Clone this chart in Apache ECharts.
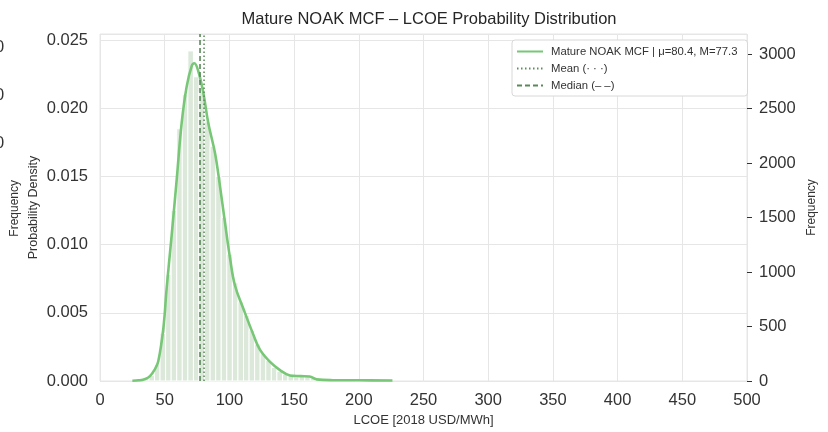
<!DOCTYPE html>
<html>
<head>
<meta charset="utf-8">
<script src="https://cdn.jsdelivr.net/npm/echarts@6/dist/echarts.min.js"></script>
<style>html,body{margin:0;padding:0;background:#fff}#c{width:828px;height:432px}</style>
</head>
<body>
<div id="c"></div>
<script>
// ---- data ----
var titleText = 'Mature NOAK MCF \u2013 LCOE Probability Distribution';
var xTicks = [0, 50, 100, 150, 200, 250, 300, 350, 400, 450, 500];
var densityTicks = [0, 0.005, 0.010, 0.015, 0.020, 0.025];
var freqTicks = [0, 500, 1000, 1500, 2000, 2500, 3000];
var meanVal = 80.4;
var medianVal = 77.3;
var seriesName = 'Mature NOAK MCF | \u03bc=80.4, M=77.3';

// histogram (frequency counts)
var histBinStart = 33.5;
var histBinWidth = 4.3;
var histFreq = [25, 50, 150, 438, 976, 1564, 2315, 2628, 3029, 2791, 2653, 2378, 2153, 1877, 1502,
  1164, 901, 726, 601, 463, 338, 250, 188, 125, 88, 63, 50, 38, 38, 38, 25, 12, 12, 12, 8, 6, 4, 3, 2, 1, 1];

// KDE curve
var kdeX = [25, 30, 35, 38.6, 42, 45, 49, 51.5, 55.4, 59.3, 63.1, 67, 70.9, 72.9, 76, 79.9, 83.7, 88.9,
  92.7, 96.6, 100.5, 104.3, 110.8, 118.5, 123.6, 131.4, 139.1, 146.8, 155, 162, 167.4, 180, 200, 226];
var kdeY = [0.00002, 0.00005, 0.00015, 0.00036, 0.0008, 0.00143, 0.0039, 0.0068, 0.0107, 0.0148, 0.0189,
  0.0216, 0.0231, 0.0233, 0.0227, 0.0211, 0.0189, 0.0167, 0.0143, 0.0116, 0.0090, 0.0070, 0.0053, 0.0034,
  0.0023, 0.0014, 0.0008, 0.00041, 0.00036, 0.00033, 0.00012, 0.00006, 0.00005, 0.00004];

// ---- build ----
var densMax = 0.02544;
var freqMax = 3184;
var histData = histFreq.map(function (f, i) {
  var x0 = histBinStart + i * histBinWidth;
  return [x0, x0 + histBinWidth, f];
});
var kdeData = kdeX.map(function (x, i) { return [x, kdeY[i]]; });

var font = 'Liberation Sans, Arial, sans-serif';
var tickFont = 16.5;
var chart = echarts.init(document.getElementById('c'));
chart.setOption({
  animation: false,
  backgroundColor: '#fff',
  textStyle: { fontFamily: font },
  title: {
    text: titleText, left: 424, top: 6, textAlign: 'center',
    textStyle: { fontSize: 16.5, fontWeight: 'normal', color: '#262626', fontFamily: font }
  },
  grid: { left: 100, right: 81, top: 34, bottom: 49, show: true, borderColor: '#e6e6e6', borderWidth: 1 },
  legend: {
    orient: 'vertical', left: 512, top: 40, padding: [6, 10, 5, 4],
    itemWidth: 26, itemHeight: 11, itemGap: 6,
    backgroundColor: '#fff', borderColor: '#d8d8d8', borderWidth: 1, borderRadius: 3,
    itemStyle: { opacity: 0, borderWidth: 0 },
    textStyle: { fontSize: 11.3, color: '#333', fontFamily: font, padding: [0, 0, 0, 3] },
    data: [seriesName, 'Mean (\u00b7 \u00b7 \u00b7)', 'Median (\u2013 \u2013)']
  },
  xAxis: {
    type: 'value', min: xTicks[0], max: xTicks[xTicks.length - 1], interval: 50,
    name: 'LCOE [2018 USD/MWh]', nameLocation: 'middle', nameGap: 33,
    nameTextStyle: { fontSize: 13, color: '#333', fontFamily: font },
    axisLine: { show: false }, axisTick: { show: false },
    axisLabel: { fontSize: tickFont, color: '#333', margin: 11, fontFamily: font },
    splitLine: { show: true, lineStyle: { color: '#e6e6e6', width: 1 } }
  },
  yAxis: [{
    type: 'value', min: 0, max: densMax, interval: 0.005, position: 'left',
    name: 'Probability Density', nameLocation: 'middle', nameGap: 60, nameMoveOverlap: false,
    nameTextStyle: { fontSize: 12.5, color: '#333', fontFamily: font },
    axisLine: { show: false }, axisTick: { show: false },
    axisLabel: { fontSize: tickFont, color: '#333', margin: 12, showMaxLabel: false, fontFamily: font,
      formatter: function (v) { return densityTicks.indexOf(Math.round(v * 1000) / 1000) >= 0 ? v.toFixed(3) : ''; } },
    splitLine: { show: true, lineStyle: { color: '#e6e6e6', width: 1 } }
  }, {
    type: 'value', min: 0, max: freqMax, interval: 500, position: 'right',
    name: 'Frequency', nameLocation: 'middle', nameGap: 59, nameRotate: 90, nameMoveOverlap: false,
    nameTextStyle: { fontSize: 12, color: '#333', fontFamily: font },
    axisLine: { show: false },
    axisTick: { show: true, length: 5, lineStyle: { color: '#333', width: 1 } },
    axisLabel: { fontSize: tickFont, color: '#333', margin: 12, showMaxLabel: false, fontFamily: font,
      formatter: function (v) { return freqTicks.indexOf(v) >= 0 ? String(v) : ''; } },
    splitLine: { show: false }
  }],
  series: [{
    type: 'custom', yAxisIndex: 1, z: 1,
    encode: { x: [0, 1], y: 2 },
    data: histData,
    renderItem: function (params, api) {
      var p0 = api.coord([api.value(0), api.value(2)]);
      var p1 = api.coord([api.value(1), 0]);
      return {
        type: 'rect',
        shape: { x: p0[0], y: p0[1], width: p1[0] - p0[0], height: p1[1] - p0[1] },
        style: { fill: '#dce9da', stroke: '#ffffff', lineWidth: 1 }
      };
    }
  }, {
    name: seriesName, type: 'line', yAxisIndex: 0, z: 3,
    data: kdeData, smooth: 0.4, showSymbol: false, symbol: 'none',
    lineStyle: { color: '#77c777', width: 2.6 }, itemStyle: { color: '#77c777' }
  }, {
    name: 'Mean (\u00b7 \u00b7 \u00b7)', type: 'line', yAxisIndex: 0, z: 4,
    data: [[meanVal, 0], [meanVal, densMax]], showSymbol: false, symbol: 'none',
    lineStyle: { color: '#5e8c5e', width: 1.6, type: [1.5, 2.5] }, itemStyle: { color: '#5e8c5e' }
  }, {
    name: 'Median (\u2013 \u2013)', type: 'line', yAxisIndex: 0, z: 4,
    data: [[medianVal, 0], [medianVal, densMax]], showSymbol: false, symbol: 'none',
    lineStyle: { color: '#5a885a', width: 1.6, type: [5, 3] }, itemStyle: { color: '#5a885a' }
  }],
  graphic: [
    { type: 'text', left: 9, top: 180, rotation: Math.PI / 2,
      style: { text: 'Frequency', fontSize: 12, fill: '#333', fontFamily: font } },
    { type: 'text', x: -5, y: 39, style: { text: '0', fontSize: tickFont, fill: '#333', fontFamily: font } },
    { type: 'text', x: -5, y: 87, style: { text: '0', fontSize: tickFont, fill: '#333', fontFamily: font } },
    { type: 'text', x: -5, y: 135, style: { text: '0', fontSize: tickFont, fill: '#333', fontFamily: font } }
  ]
});
</script>
</body>
</html>
